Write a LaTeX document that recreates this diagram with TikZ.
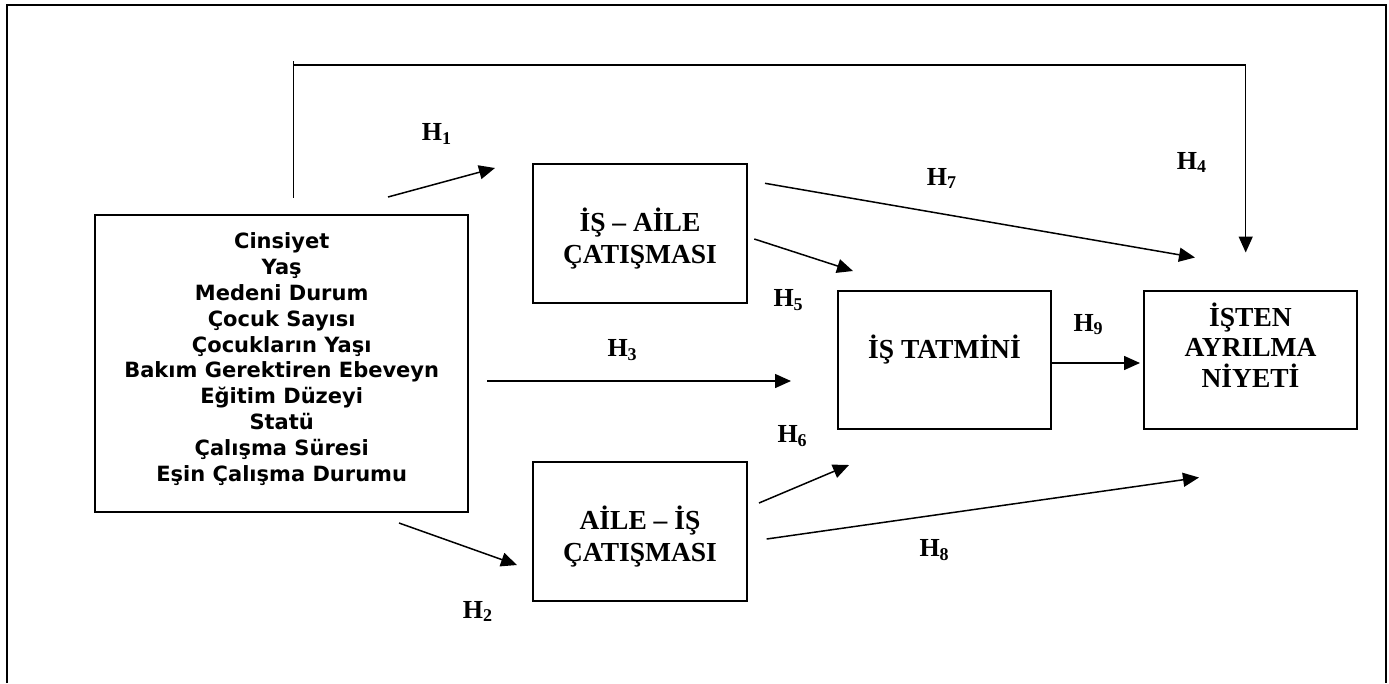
\documentclass[tikz,border=0pt]{standalone}
\usepackage{fontspec}
\setmainfont{Liberation Serif}
\newfontfamily\demofont{DejaVu Sans}
\usetikzlibrary{arrows.meta}
% hypothesis label with a lowered, smaller index
\newcommand\Hsub[1]{H\raisebox{-3.5pt}{\fontsize{18}{18}\selectfont #1}}

\begin{document}
\begin{tikzpicture}[x=1pt,y=-1pt,
  frame/.style={line width=2.2pt},
  box/.style={draw,line width=1.8pt,rectangle,inner sep=0pt},
  title/.style={font=\fontsize{27.5}{31}\selectfont\bfseries,inner sep=0pt,anchor=base},
  demo/.style={font=\demofont\fontsize{21}{26}\selectfont\bfseries,inner sep=0pt,anchor=base},
  hlab/.style={font=\fontsize{26}{30}\selectfont\bfseries,inner sep=0pt,anchor=base west},
  link/.style={line width=1.5pt,-{Triangle[length=16pt,width=14pt]}},
  plain/.style={line width=1.5pt},
]
\useasboundingbox (0,0) rectangle (1389,683);

% outer frame (open at the bottom)
\draw[frame] (6.7,683) -- (6.7,5) -- (1385.7,5) -- (1385.7,683);

% boxes
\node[box,minimum width=373.3pt,minimum height=297.3pt] (demo) at (281.7,363.7) {};
\node[box,minimum width=214pt,minimum height=139pt] (ia) at (640,233.5) {};
\node[box,minimum width=214pt,minimum height=139pt] (ai) at (640,531.5) {};
\node[box,minimum width=213pt,minimum height=138pt] (tatmin) at (944.5,360) {};
\node[box,minimum width=213pt,minimum height=138pt] (niyet) at (1250.5,360) {};

% demographic variables
\foreach \t [count=\i] in {Cinsiyet,Yaş,Medeni Durum,Çocuk Sayısı,Çocukların Yaşı,
  Bakım Gerektiren Ebeveyn,Eğitim Düzeyi,Statü,Çalışma Süresi,Eşin Çalışma Durumu}
  \node[demo] (demo-\i) at (281.7,{248.3+(\i-1)*25.93}) {\t};

% box titles
\node[title] (ia-1) at (640,231) {İŞ – AİLE};
\node[title] (ia-2) at (640,263) {ÇATIŞMASI};
\node[title] (ai-1) at (640,529.3) {AİLE – İŞ};
\node[title] (ai-2) at (640,561.7) {ÇATIŞMASI};
\node[title] (tatmin-1) at (944.5,358.3) {İŞ TATMİNİ};
\node[title] (niyet-1) at (1250.5,326) {İŞTEN};
\node[title] (niyet-2) at (1250.5,356.7) {AYRILMA};
\node[title] (niyet-3) at (1250.5,387.7) {NİYETİ};

% arrow end points
\coordinate (h1a) at (388,197);    \coordinate (h1b) at (495,168);
\coordinate (h2a) at (399,523);    \coordinate (h2b) at (517,565);
\coordinate (h3a) at (487,381);    \coordinate (h3b) at (791,381);
\coordinate (h4a) at (293.3,197.7);\coordinate (h4c) at (293.3,61);
\coordinate (h4d) at (293.3,65);   \coordinate (h4e) at (1245.7,65);
\coordinate (h4b) at (1245.7,252.5);
\coordinate (h5a) at (754.3,239);  \coordinate (h5b) at (853,271);
\coordinate (h6a) at (759,503);    \coordinate (h6b) at (849,465);
\coordinate (h7a) at (765,183.3);  \coordinate (h7b) at (1195,257.5);
\coordinate (h8a) at (766.7,539);  \coordinate (h8b) at (1199,477.5);
\coordinate (h9a) at (1051,363);   \coordinate (h9b) at (1140,363);

% connectors
\draw[link] (h1a) -- (h1b);
\draw[link] (h2a) -- (h2b);
\draw[link] (h3a) -- (h3b);
\draw[plain] (h4a) -- (h4c);
\draw[link] (h4d) -- (h4e) -- (h4b);
\draw[link] (h5a) -- (h5b);
\draw[link] (h6a) -- (h6b);
\draw[link] (h7a) -- (h7b);
\draw[link] (h8a) -- (h8b);
\draw[link] (h9a) -- (h9b);

% hypothesis labels
\node[hlab] (H1) at (421.7,140.7) {\Hsub{1}};
\node[hlab] (H2) at (462.7,618.3) {\Hsub{2}};
\node[hlab] (H3) at (607.3,356.7) {\Hsub{3}};
\node[hlab] (H4) at (1176.7,169.3) {\Hsub{4}};
\node[hlab] (H5) at (773.3,306.7) {\Hsub{5}};
\node[hlab] (H6) at (777.3,442.7) {\Hsub{6}};
\node[hlab] (H7) at (926.7,185) {\Hsub{7}};
\node[hlab] (H8) at (919.3,556.7) {\Hsub{8}};
\node[hlab] (H9) at (1073.3,331) {\Hsub{9}};
\end{tikzpicture}
\end{document}
